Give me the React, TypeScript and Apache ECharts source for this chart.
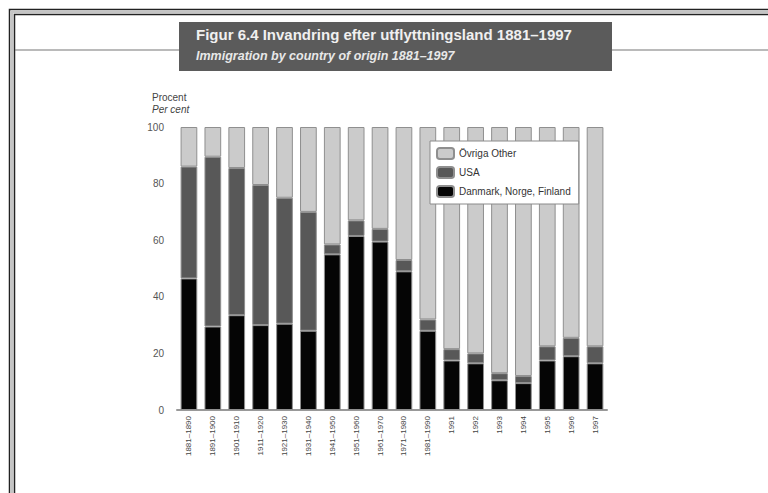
import React, { useEffect, useRef } from "react";
import * as echarts from "echarts";

const categories = [
  "1881–1890", "1891–1900", "1901–1910", "1911–1920", "1921–1930", "1931–1940",
  "1941–1950", "1951–1960", "1961–1970", "1971–1980", "1981–1990",
  "1991", "1992", "1993", "1994", "1995", "1996", "1997",
];
const nordic = [46.5, 29.5, 33.5, 30, 30.5, 28, 55, 61.5, 59.5, 49, 28, 17.5, 16.5, 10.5, 9.5, 17.5, 19, 16.5];
const usa = [39.5, 60, 52, 49.5, 44.5, 42, 3.5, 5.5, 4.5, 4, 4, 4, 3.5, 2.5, 2.5, 5, 6.5, 6];
const other = [14, 10.5, 14.5, 20.5, 25, 30, 41.5, 33, 36, 47, 68, 78.5, 80, 87, 88, 77.5, 74.5, 77.5];
const yTicks = [0, 20, 40, 60, 80, 100];

const titleSv = "Figur 6.4 Invandring efter utflyttningsland 1881–1997";
const titleEn = "Immigration by country of origin 1881–1997";
const seriesNames = ["Danmark, Norge, Finland", "USA", "Övriga Other"];

const FONT = "'Liberation Sans', 'DejaVu Sans', sans-serif";

export default function App() {
  const ref = useRef<HTMLDivElement>(null);
  useEffect(() => {
    const chart = echarts.init(ref.current!, null, { renderer: "svg" });
    const border = { borderColor: "#8f8f8f", borderWidth: 1 };
    chart.setOption({
      animation: false,
      backgroundColor: "#ffffff",
      textStyle: { fontFamily: FONT },
      grid: { left: 177, right: 161, top: 127, bottom: 83, containLabel: false },
      legend: {
        orient: "vertical",
        left: 430,
        top: 141,
        data: [seriesNames[2], seriesNames[1], seriesNames[0]],
        backgroundColor: "#ffffff",
        borderColor: "#8a8a8a",
        borderWidth: 1,
        borderRadius: 0,
        padding: [6, 8, 6, 6],
        itemGap: 6,
        itemWidth: 17,
        itemHeight: 11,
        textStyle: { fontSize: 10, color: "#333", fontFamily: FONT },
      },
      xAxis: {
        type: "category",
        data: categories,
        axisLine: { lineStyle: { color: "#999", width: 2 } },
        axisTick: { show: false },
        axisLabel: { rotate: 90, fontSize: 8, color: "#444", margin: 6, interval: 0 },
      },
      yAxis: {
        type: "value",
        min: 0,
        max: 100,
        interval: 20,
        axisLine: { show: false },
        axisTick: { show: false },
        splitLine: { show: false },
        axisLabel: {
          fontSize: 10,
          color: "#555",
          margin: 13,
          customValues: yTicks,
        },
      },
      series: [
        {
          name: seriesNames[0], type: "bar", stack: "s", data: nordic,
          barCategoryGap: "30%",
          itemStyle: { color: "#050505", ...border },
        },
        {
          name: seriesNames[1], type: "bar", stack: "s", data: usa,
          itemStyle: { color: "#585858", ...border },
        },
        {
          name: seriesNames[2], type: "bar", stack: "s", data: other,
          itemStyle: { color: "#cbcbcb", ...border },
        },
      ],
      graphic: [
        { type: "rect", shape: { x: 9.5, y: 9.5, width: 800, height: 600 }, style: { fill: "none", stroke: "#222", lineWidth: 1.5 }, silent: true },
        { type: "rect", shape: { x: 12, y: 12, width: 800, height: 600 }, style: { fill: "none", stroke: "#c4c4c4", lineWidth: 2.5 }, silent: true },
        { type: "rect", shape: { x: 14.5, y: 14.5, width: 800, height: 600 }, style: { fill: "none", stroke: "#222", lineWidth: 1.5 }, silent: true },
        { type: "line", shape: { x1: 15, y1: 50, x2: 768, y2: 50 }, style: { stroke: "#777", lineWidth: 1.2 }, silent: true },
        { type: "rect", shape: { x: 179, y: 22, width: 433, height: 49 }, style: { fill: "#5b5b5b" }, silent: true },
        {
          type: "text", left: 196, top: 27,
          style: { text: titleSv, fill: "#f0f0f0", font: `bold 15px ${FONT}` },
        },
        {
          type: "text", left: 196, top: 49,
          style: { text: titleEn, fill: "#e8e8e8", font: `italic bold 12.5px ${FONT}` },
        },
        {
          type: "text", left: 152, top: 92,
          style: { text: "Procent", fill: "#444", font: `10px ${FONT}` },
        },
        {
          type: "text", left: 152, top: 104,
          style: { text: "Per cent", fill: "#444", font: `italic 10px ${FONT}` },
        },
      ],
    });
    return () => chart.dispose();
  }, []);
  return (
    <div
      ref={ref}
      style={{ position: "fixed", left: 0, top: 0, width: 768, height: 493 }}
    />
  );
}
